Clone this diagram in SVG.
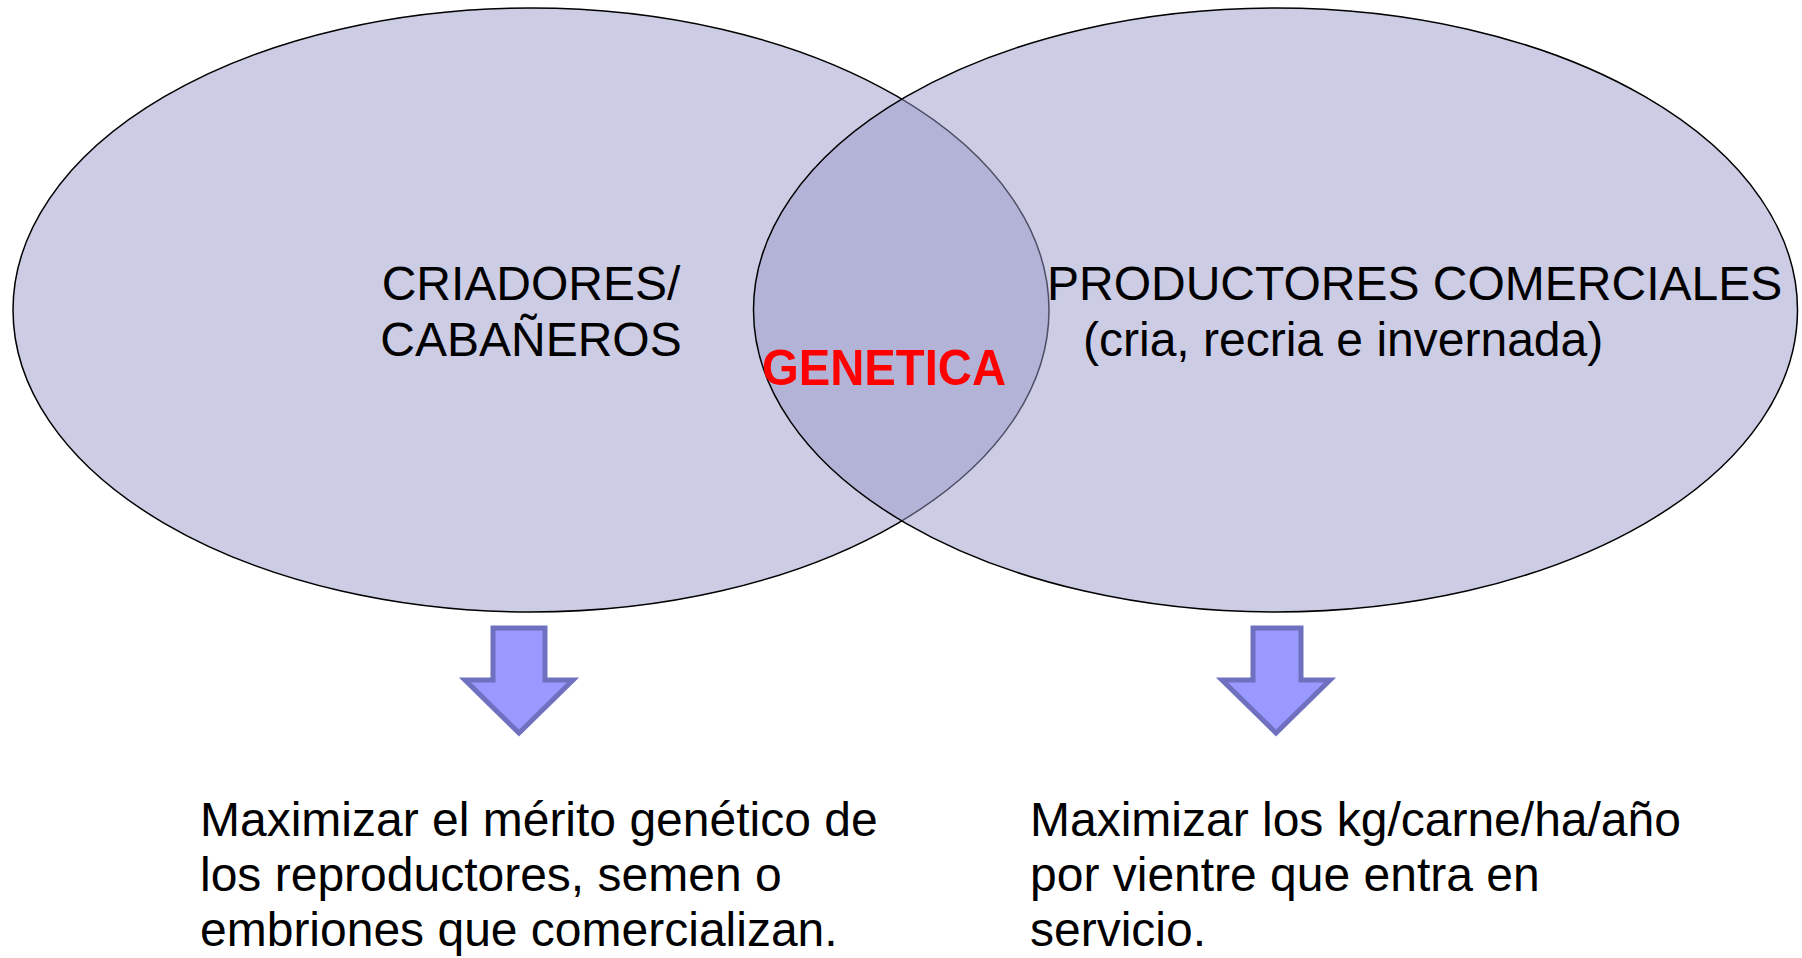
<svg xmlns="http://www.w3.org/2000/svg" width="1802" height="958" viewBox="0 0 1802 958">
<style>
.ell{fill:#9999CC;fill-opacity:0.5;stroke:#000;stroke-width:1.5}
.t{font-family:"Liberation Sans",Arial,sans-serif;font-size:48px;fill:#000}
.g{font-family:"Liberation Sans",Arial,sans-serif;font-size:50px;font-weight:bold;fill:#FF0000}
.arr{fill:#9999FF;stroke:#7070C0;stroke-width:5}
</style>
<rect width="1802" height="958" fill="#fff"/>
<g id="criadores">
<ellipse class="ell" cx="531" cy="310" rx="518" ry="302"/>
<text class="t" x="531" y="300" text-anchor="middle">CRIADORES/</text>
<text class="t" x="531" y="356" text-anchor="middle">CABAÑEROS</text>
</g>
<g id="productores">
<ellipse class="ell" cx="1275.5" cy="310" rx="522" ry="302"/>
<text class="t" x="1047" y="300">PRODUCTORES COMERCIALES</text>
<text class="t" x="1083" y="356">(cria, recria e invernada)</text>
</g>
<g id="genetica">
<text class="g" x="762" y="385" textLength="244" lengthAdjust="spacingAndGlyphs">GENETICA</text>
</g>
<g id="connectors">
<path class="arr" d="M493,628 H545 V680 H573 L519,733 L465,680 H493 Z"/>
<path class="arr" d="M1253,628 H1301 V680 H1330 L1276,733 L1222,680 H1253 Z"/>
</g>
<g id="objetivo-criadores">
<text class="t" x="200" y="836">Maximizar el mérito genético de</text>
<text class="t" x="200" y="891">los reproductores, semen o</text>
<text class="t" x="200" y="946">embriones que comercializan.</text>
</g>
<g id="objetivo-productores">
<text class="t" x="1030" y="836">Maximizar los kg/carne/ha/año</text>
<text class="t" x="1030" y="891">por vientre que entra en</text>
<text class="t" x="1030" y="946">servicio.</text>
</g>
</svg>
